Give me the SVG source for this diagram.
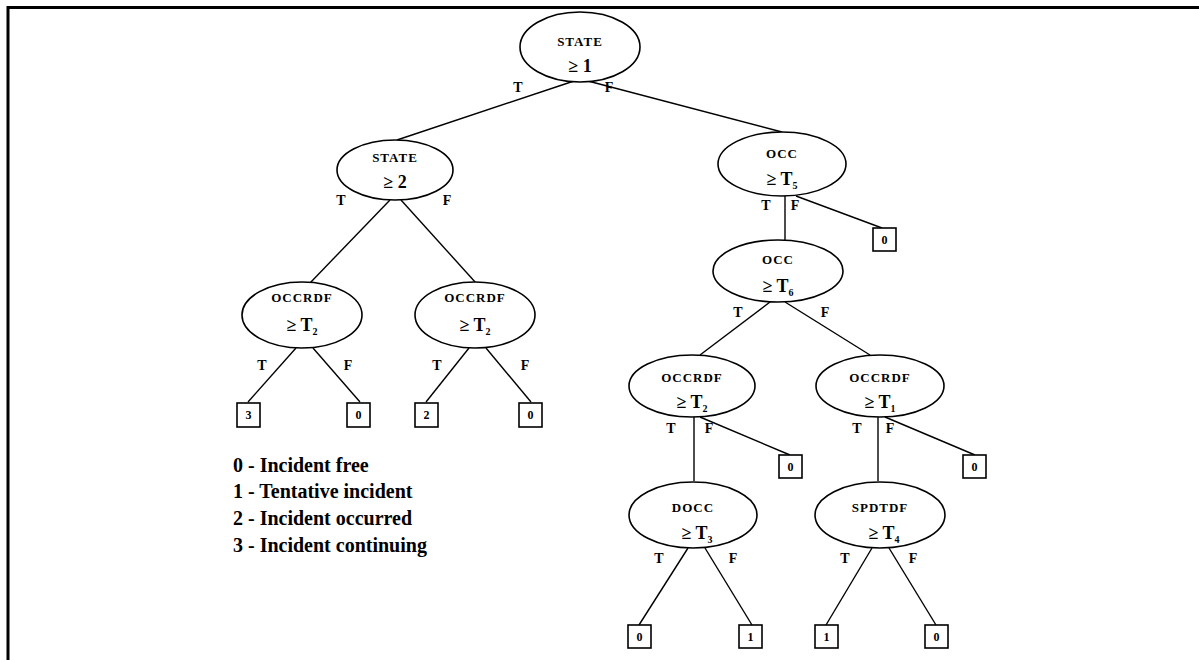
<svg xmlns="http://www.w3.org/2000/svg" width="1199" height="660" viewBox="0 0 1199 660">
  <style>
    .node ellipse { fill: #fff; stroke: #000; stroke-width: 1.6; }
    .leaf rect { fill: #fff; stroke: #000; stroke-width: 1.6; }
    .name { font-family: "Liberation Serif", serif; font-weight: bold; font-size: 13px; letter-spacing: 1px; text-anchor: middle; fill: #000; }
    .cond { font-family: "Liberation Serif", serif; font-weight: bold; font-size: 18px; text-anchor: middle; fill: #000; }
    .sub { font-size: 10px; }
    .lbl { font-family: "Liberation Serif", serif; font-weight: bold; font-size: 14px; text-anchor: middle; fill: #000; }
    .val { font-family: "Liberation Serif", serif; font-weight: bold; font-size: 12px; text-anchor: middle; fill: #000; }
    .legend { font-family: "Liberation Serif", serif; font-weight: bold; font-size: 20px; fill: #000; }
    .edge { stroke: #000; stroke-width: 1.4; fill: none; }
  </style>

  <!-- frame -->
  <g id="frame" stroke="#000" stroke-width="3">
    <line x1="7" y1="7.5" x2="1199" y2="7.5"/>
    <line x1="8" y1="6" x2="8" y2="660"/>
  </g>

  <!-- connectors -->
  <g id="connectors" class="edge">
    <line class="edge" x1="574" y1="81" x2="397" y2="140"/>
    <line class="edge" x1="588" y1="81" x2="782" y2="132"/>
    <line class="edge" x1="390" y1="200" x2="310" y2="283"/>
    <line class="edge" x1="401" y1="200" x2="476" y2="283"/>
    <line class="edge" x1="296" y1="348" x2="248" y2="402"/>
    <line class="edge" x1="313" y1="348" x2="360" y2="402"/>
    <line class="edge" x1="469" y1="348" x2="426" y2="402"/>
    <line class="edge" x1="486" y1="348" x2="531" y2="402"/>
    <line class="edge" x1="785" y1="196" x2="785" y2="240"/>
    <line class="edge" x1="796" y1="196" x2="882" y2="228"/>
    <line class="edge" x1="770" y1="302" x2="700" y2="355"/>
    <line class="edge" x1="785" y1="302" x2="870" y2="355"/>
    <line class="edge" x1="694" y1="416" x2="694" y2="481"/>
    <line class="edge" x1="700" y1="417" x2="790" y2="455"/>
    <line class="edge" x1="878" y1="416" x2="878" y2="481"/>
    <line class="edge" x1="885" y1="417" x2="975" y2="455"/>
    <line class="edge" x1="688" y1="548" x2="639" y2="625"/>
    <line class="edge" x1="705" y1="548" x2="752" y2="625"/>
    <line class="edge" x1="872" y1="548" x2="826" y2="625"/>
    <line class="edge" x1="889" y1="548" x2="936" y2="625"/>
  </g>

  <!-- decision nodes -->
  <g id="n-state1" class="node">
    <ellipse cx="580" cy="47" rx="60" ry="35"/>
    <text class="name" x="580" y="46">STATE</text>
    <text class="cond" x="580" y="72">≥ 1</text>
  </g>
  <g id="n-state2" class="node">
    <ellipse cx="395" cy="170" rx="58" ry="30"/>
    <text class="name" x="395" y="162">STATE</text>
    <text class="cond" x="395" y="188">≥ 2</text>
  </g>
  <g id="n-occrdf-a" class="node">
    <ellipse cx="302" cy="315" rx="60" ry="33"/>
    <text class="name" x="302" y="302">OCCRDF</text>
    <text class="cond" x="302" y="331">≥ T<tspan class="sub" dy="4">2</tspan></text>
  </g>
  <g id="n-occrdf-b" class="node">
    <ellipse cx="475" cy="315" rx="60" ry="33"/>
    <text class="name" x="475" y="302">OCCRDF</text>
    <text class="cond" x="475" y="331">≥ T<tspan class="sub" dy="4">2</tspan></text>
  </g>
  <g id="n-occ5" class="node">
    <ellipse cx="782" cy="164" rx="64" ry="32"/>
    <text class="name" x="782" y="158">OCC</text>
    <text class="cond" x="782" y="185">≥ T<tspan class="sub" dy="4">5</tspan></text>
  </g>
  <g id="n-occ6" class="node">
    <ellipse cx="778" cy="271" rx="65" ry="31"/>
    <text class="name" x="778" y="264">OCC</text>
    <text class="cond" x="778" y="292">≥ T<tspan class="sub" dy="4">6</tspan></text>
  </g>
  <g id="n-occrdf-c" class="node">
    <ellipse cx="692" cy="386" rx="63" ry="31"/>
    <text class="name" x="692" y="382">OCCRDF</text>
    <text class="cond" x="692" y="408">≥ T<tspan class="sub" dy="4">2</tspan></text>
  </g>
  <g id="n-occrdf-d" class="node">
    <ellipse cx="880" cy="386" rx="64" ry="31"/>
    <text class="name" x="880" y="382">OCCRDF</text>
    <text class="cond" x="880" y="408">≥ T<tspan class="sub" dy="4">1</tspan></text>
  </g>
  <g id="n-docc" class="node">
    <ellipse cx="693" cy="515" rx="64" ry="33"/>
    <text class="name" x="693" y="512">DOCC</text>
    <text class="cond" x="697" y="539">≥ T<tspan class="sub" dy="4">3</tspan></text>
  </g>
  <g id="n-spdtdf" class="node">
    <ellipse cx="880" cy="515" rx="65" ry="33"/>
    <text class="name" x="880" y="512">SPDTDF</text>
    <text class="cond" x="884" y="539">≥ T<tspan class="sub" dy="4">4</tspan></text>
  </g>

  <!-- branch labels -->
  <g id="branch-labels" class="lbl">
    <text class="lbl" x="518" y="92">T</text>
    <text class="lbl" x="609" y="92">F</text>
    <text class="lbl" x="341" y="205">T</text>
    <text class="lbl" x="447" y="205">F</text>
    <text class="lbl" x="262" y="370">T</text>
    <text class="lbl" x="348" y="370">F</text>
    <text class="lbl" x="437" y="370">T</text>
    <text class="lbl" x="525" y="370">F</text>
    <text class="lbl" x="766" y="210">T</text>
    <text class="lbl" x="795" y="210">F</text>
    <text class="lbl" x="738" y="317">T</text>
    <text class="lbl" x="825" y="317">F</text>
    <text class="lbl" x="671" y="433">T</text>
    <text class="lbl" x="709" y="433">F</text>
    <text class="lbl" x="857" y="433">T</text>
    <text class="lbl" x="890" y="433">F</text>
    <text class="lbl" x="659" y="563">T</text>
    <text class="lbl" x="733" y="563">F</text>
    <text class="lbl" x="845" y="563">T</text>
    <text class="lbl" x="913" y="563">F</text>
  </g>

  <!-- leaf outcomes -->
  <g id="l-3a" class="leaf"><rect x="237" y="403" width="23" height="24"/><text class="val" x="248.5" y="419">3</text></g>
  <g id="l-0a" class="leaf"><rect x="347" y="403" width="23" height="24"/><text class="val" x="358.5" y="419">0</text></g>
  <g id="l-2a" class="leaf"><rect x="415" y="403" width="23" height="24"/><text class="val" x="426.5" y="419">2</text></g>
  <g id="l-0b" class="leaf"><rect x="519" y="403" width="23" height="24"/><text class="val" x="530.5" y="419">0</text></g>
  <g id="l-0c" class="leaf"><rect x="873" y="228" width="23" height="23"/><text class="val" x="884.5" y="244">0</text></g>
  <g id="l-0d" class="leaf"><rect x="779" y="455" width="23" height="23"/><text class="val" x="790.5" y="471">0</text></g>
  <g id="l-0e" class="leaf"><rect x="963" y="455" width="23" height="23"/><text class="val" x="974.5" y="471">0</text></g>
  <g id="l-0f" class="leaf"><rect x="628" y="625" width="23" height="23"/><text class="val" x="639.5" y="641">0</text></g>
  <g id="l-1a" class="leaf"><rect x="739" y="625" width="23" height="23"/><text class="val" x="750.5" y="641">1</text></g>
  <g id="l-1b" class="leaf"><rect x="815" y="625" width="23" height="23"/><text class="val" x="826.5" y="641">1</text></g>
  <g id="l-0g" class="leaf"><rect x="925" y="625" width="23" height="23"/><text class="val" x="936.5" y="641">0</text></g>

  <!-- legend -->
  <g id="legend" class="legend">
    <text x="233" y="472">0 - Incident free</text>
    <text x="233" y="498">1 - Tentative incident</text>
    <text x="233" y="525">2 - Incident occurred</text>
    <text x="233" y="552">3 - Incident continuing</text>
  </g>
</svg>
